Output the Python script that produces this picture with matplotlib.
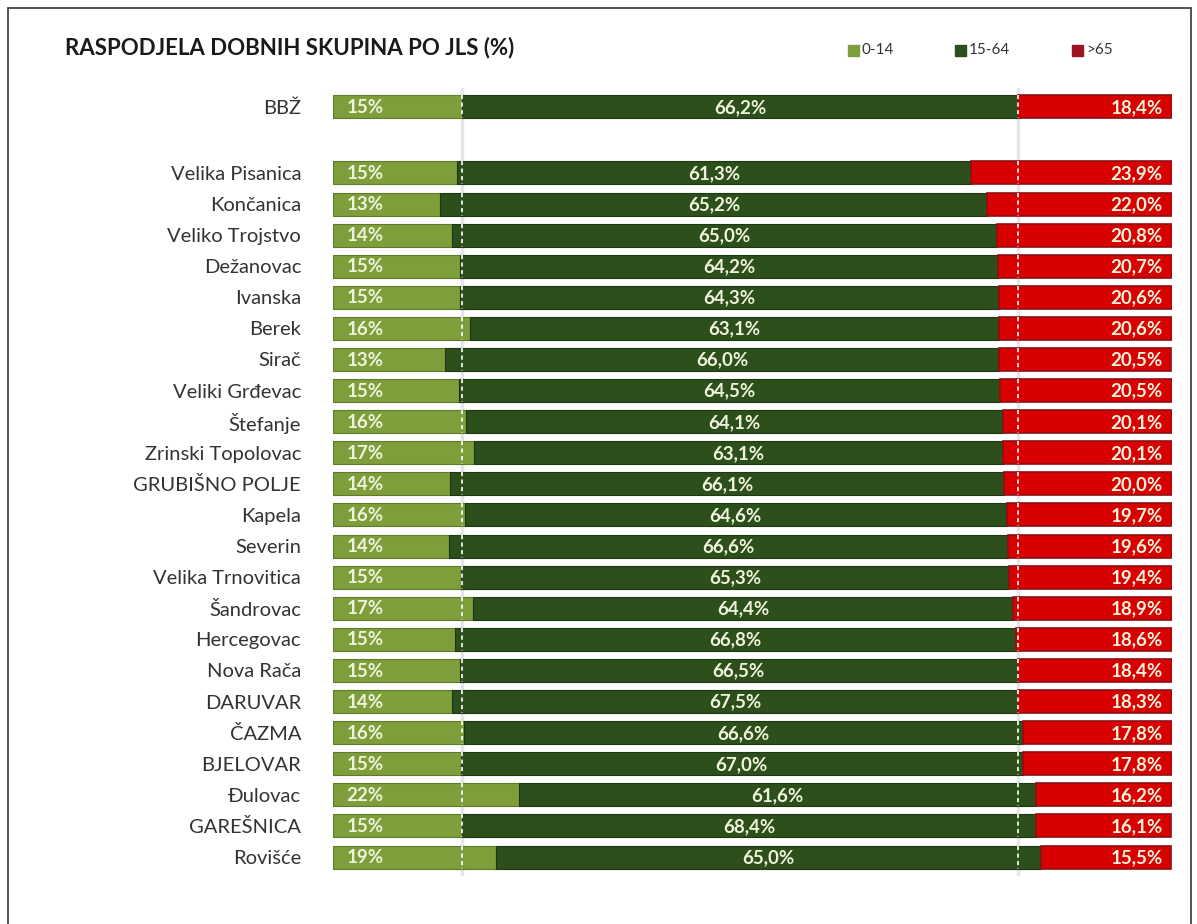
import matplotlib
matplotlib.use("Agg")
import matplotlib.pyplot as plt
from matplotlib.patches import Rectangle

plt.rcParams['font.family'] = ['Lato', 'DejaVu Sans']

# data
regions = ["BBŽ", "Velika Pisanica", "Končanica", "Veliko Trojstvo", "Dežanovac",
           "Ivanska", "Berek", "Sirač", "Veliki Grđevac", "Štefanje",
           "Zrinski Topolovac", "GRUBIŠNO POLJE", "Kapela", "Severin",
           "Velika Trnovitica", "Šandrovac", "Hercegovac", "Nova Rača", "DARUVAR",
           "ČAZMA", "BJELOVAR", "Đulovac", "GAREŠNICA", "Rovišće"]
age_0_14 = [15.4, 14.8, 12.8, 14.2, 15.1, 15.1, 16.3, 13.4, 15.0, 15.8, 16.8, 13.9,
            15.7, 13.8, 15.3, 16.7, 14.6, 15.1, 14.2, 15.6, 15.2, 22.2, 15.4, 19.4]
age_15_64 = [66.2, 61.3, 65.2, 65.0, 64.2, 64.3, 63.1, 66.0, 64.5, 64.1, 63.1, 66.1,
             64.6, 66.6, 65.3, 64.4, 66.8, 66.5, 67.5, 66.6, 67.0, 61.6, 68.4, 65.0]
age_65 = [18.4, 23.9, 22.0, 20.8, 20.7, 20.6, 20.6, 20.5, 20.5, 20.1, 20.1, 20.0,
          19.7, 19.6, 19.4, 18.9, 18.6, 18.4, 18.3, 17.8, 17.8, 16.2, 16.1, 15.5]
legend_labels = ["0-14", "15-64", ">65"]

c_light = "#7E9E3C"
c_dark = "#2C4F1C"
c_red = "#D80000"
c_red_edge = "#8E0F14"
c_text = "#EEF3DC"

fig = plt.figure(figsize=(11.97, 9.24), dpi=100)
ax = fig.add_axes([333 / 1197, 0.0523, (1172 - 333) / 1197, 0.9044 - 0.0523])

# BBŽ on top, gap, then the municipalities
ypos = [0] + [2.12 + i for i in range(len(regions) - 1)]
h = 0.74

left2 = [a for a in age_0_14]
left3 = [a + b for a, b in zip(age_0_14, age_15_64)]

# reference lines at BBŽ boundaries (drawn behind)
for xv in (age_0_14[0], left3[0]):
    ax.axvline(xv, color="#E4E6EA", lw=2.5, zorder=0)

ax.barh(ypos, age_0_14, height=h, color=c_light, edgecolor="#5E7B2A", lw=0.8, zorder=2)
ax.barh(ypos, age_15_64, left=left2, height=h, color=c_dark, edgecolor="#1E3912", lw=0.8, zorder=2)
ax.barh(ypos, age_65, left=left3, height=h, color=c_red, edgecolor=c_red_edge, lw=1.2, zorder=2)

# white dashed markers over the bars
for y in ypos:
    for xv in (age_0_14[0], left3[0]):
        ax.plot([xv, xv], [y - h / 2, y + h / 2], color="white", lw=1.2,
                ls=(0, (2.5, 2)), zorder=3)

for i, y in enumerate(ypos):
    ax.text(1.6, y + 0.02, f"{age_0_14[i]:.0f}%", color=c_text, fontsize=13.5,
            fontweight="bold", ha="left", va="center", zorder=4)
    ax.text(left2[i] + age_15_64[i] / 2, y + 0.02, f"{age_15_64[i]:.1f}%".replace(".", ","),
            color=c_text, fontsize=13.5, fontweight="bold", ha="center", va="center", zorder=4)
    ax.text(98.9, y + 0.02, f"{age_65[i]:.1f}%".replace(".", ","), color=c_text,
            fontsize=13.5, fontweight="bold", ha="right", va="center", zorder=4)

ax.set_xlim(0, 100)
ax.set_ylim(ypos[-1] + 0.6, -0.6)
ax.set_yticks(ypos)
ax.set_yticklabels(regions, fontsize=14.5, color="#333333")
ax.tick_params(axis="y", length=0, pad=23)
ax.set_xticks([])
for s in ax.spines.values():
    s.set_visible(False)

fig.text(65 / 1197, 1 - 48 / 924, "RASPODJELA DOBNIH SKUPINA PO JLS (%)", fontsize=16,
         fontweight="bold", color="#1A1A1A", ha="left", va="center")

# legend
leg_x = [848, 955, 1072]
leg_c = [c_light, c_dark, "#9B1620"]
for lx, lc, lt in zip(leg_x, leg_c, legend_labels):
    fig.patches.append(Rectangle((lx / 1197, 1 - 56 / 924), 11 / 1197, 11 / 924,
                                 transform=fig.transFigure, color=lc))
    fig.text((lx + 14) / 1197, 1 - 50 / 924, lt, fontsize=11, color="#333333",
             ha="left", va="center")

# outer frame
fig.patches.append(Rectangle((8 / 1197, -0.01), 1183 / 1197, 1 - 8 / 924 + 0.01,
                             transform=fig.transFigure, fill=False, edgecolor="#444444", lw=1.3))

fig.savefig("out.png", dpi=100)
